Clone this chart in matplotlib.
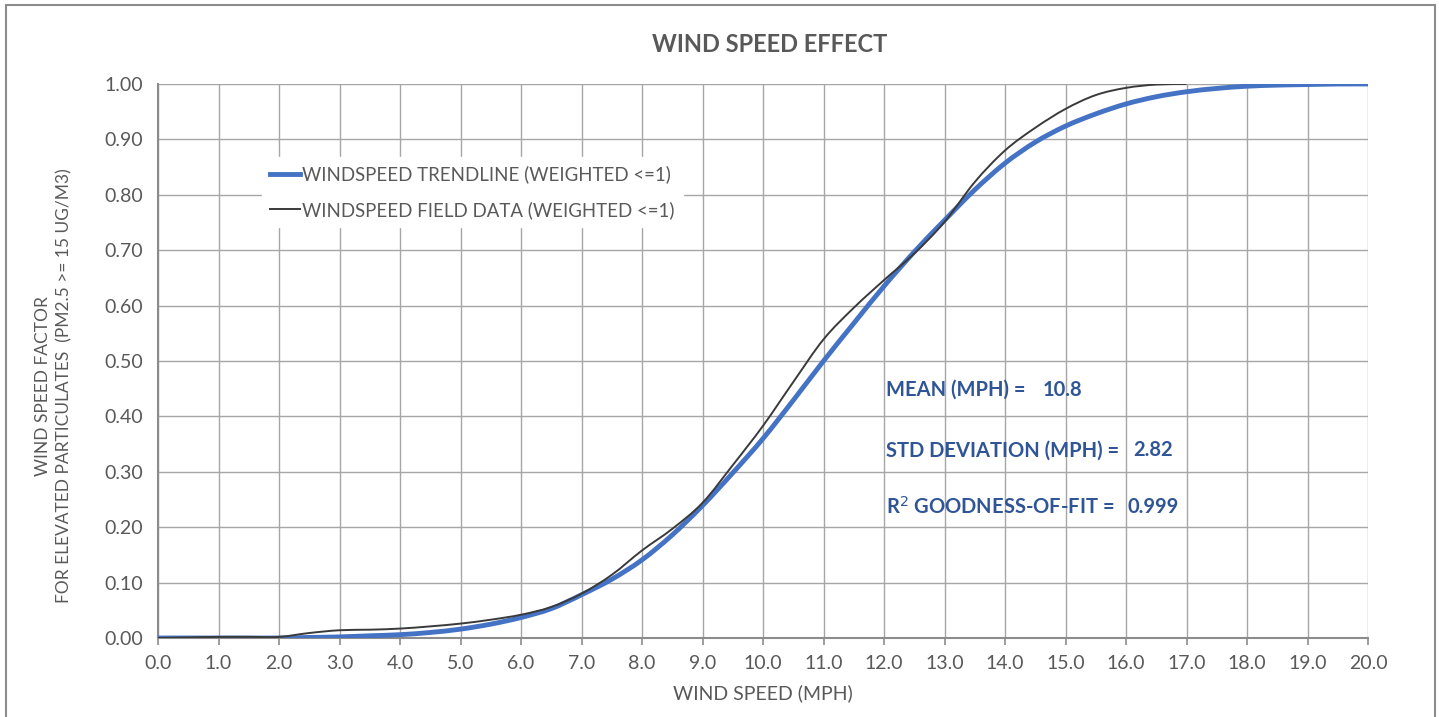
import matplotlib
matplotlib.use("Agg")
import matplotlib.pyplot as plt
from matplotlib.patches import Rectangle, PathPatch
from matplotlib.path import Path
from matplotlib.lines import Line2D

plt.rcParams['font.family'] = ['Lato', 'DejaVu Sans']

# wind speed (mph), read at half-mph steps
speed = [0.0, 0.5, 1.0, 1.5, 2.0, 2.5, 3.0, 3.5, 4.0, 4.5, 5.0, 5.5, 6.0, 6.5,
         7.0, 7.5, 8.0, 8.5, 9.0, 9.5, 10.0, 10.5, 11.0, 11.5, 12.0, 12.5,
         13.0, 13.5, 14.0, 14.5, 15.0, 15.5, 16.0, 16.5, 17.0, 17.5, 18.0,
         18.5, 19.0, 19.5, 20.0]

trend = [0.000, 0.000, 0.000, 0.000, 0.000, 0.001, 0.002, 0.004, 0.006, 0.010,
         0.016, 0.025, 0.037, 0.053, 0.078, 0.106, 0.141, 0.186, 0.239, 0.298,
         0.360, 0.429, 0.500, 0.568, 0.635, 0.697, 0.754, 0.809, 0.857, 0.895,
         0.924, 0.946, 0.964, 0.977, 0.986, 0.992, 0.996, 0.998, 0.999, 1.000,
         1.000]

# field data stops at 17 mph
field_speed = speed[:35]
field = [0.000, 0.001, 0.002, 0.002, 0.002, 0.009, 0.014, 0.015, 0.017, 0.021,
         0.026, 0.033, 0.042, 0.056, 0.080, 0.114, 0.158, 0.197, 0.244, 0.312,
         0.383, 0.462, 0.539, 0.596, 0.646, 0.694, 0.751, 0.823, 0.880, 0.921,
         0.955, 0.980, 0.993, 0.999, 1.000]

x_ticks = [i * 1.0 for i in range(21)]
y_ticks = [i / 10 for i in range(11)]

stats = [("MEAN (MPH) =", "10.8", 0.448, 14.63),
         ("STD DEVIATION (MPH) =", "2.82", 0.339, 16.12),
         ("R$^2$ GOODNESS-OF-FIT =", "0.999", 0.236, 16.03)]

gray = '#595959'
grid_c = '#A6A6A6'
blue = '#4472C4'
dark_blue = '#2F5597'
black = '#3A3A3A'


def smooth_path(xs, ys, k=1 / 6):
    # excel-like smoothed line: catmull-rom segments as cubic beziers
    verts = [(xs[0], ys[0])]
    codes = [Path.MOVETO]
    n = len(xs)
    for i in range(n - 1):
        x0, y0 = (xs[i - 1], ys[i - 1]) if i > 0 else (xs[i], ys[i])
        x1, y1 = xs[i], ys[i]
        x2, y2 = xs[i + 1], ys[i + 1]
        x3, y3 = (xs[i + 2], ys[i + 2]) if i + 2 < n else (x2, y2)
        c1 = (x1 + (x2 - x0) * k, y1 + (y2 - y0) * k)
        c2 = (x2 - (x3 - x1) * k, y2 - (y3 - y1) * k)
        verts += [c1, c2, (x2, y2)]
        codes += [Path.CURVE4] * 3
    return Path(verts, codes)


fig = plt.figure(figsize=(14.39, 7.17), dpi=100)
fig.patches.append(Rectangle((0.004, -0.01), 0.993, 1.003, transform=fig.transFigure,
                             fill=False, edgecolor='#8C8C8C', linewidth=1.5))

ax = fig.add_axes([158 / 1439, 1 - 638 / 717, 1210 / 1439, 554 / 717])
ax.add_patch(PathPatch(smooth_path(speed, trend), fill=False, edgecolor=blue,
                       linewidth=3.5, capstyle='butt', zorder=3))
ax.add_patch(PathPatch(smooth_path(field_speed, field), fill=False, edgecolor=black,
                       linewidth=1.4, zorder=4))

ax.set_xlim(0, 20)
ax.set_ylim(0, 1)
ax.set_xticks(x_ticks)
ax.set_yticks(y_ticks)
ax.set_xticklabels([f"{v:.1f}" for v in x_ticks])
ax.set_yticklabels([f"{v:.2f}" for v in y_ticks])
ax.grid(True, color=grid_c, linewidth=1.0)
ax.set_axisbelow(True)
for side in ['top', 'right']:
    ax.spines[side].set_visible(False)
for side in ['left', 'bottom']:
    ax.spines[side].set_color('#8C8C8C')
    ax.spines[side].set_linewidth(1.5)
ax.tick_params(axis='x', direction='out', length=5, color='#8C8C8C', width=1.2,
               labelsize=14, labelcolor=gray, pad=7)
ax.tick_params(axis='y', length=0, labelsize=14, labelcolor=gray, pad=11)

ax.set_xlabel("WIND SPEED (MPH)", fontsize=14, color=gray, labelpad=9)
ax.set_ylabel("WIND SPEED FACTOR\nFOR ELEVATED PARTICULATES  (PM2.5 >= 15 UG/M3)",
              fontsize=12.5, color=gray, linespacing=1.35)
ax.yaxis.set_label_coords(-0.071, 0.455)
fig.text(0.535, 1 - 45 / 717, "WIND SPEED EFFECT", ha='center', va='center',
         fontsize=17, fontweight='bold', color=gray)

handles = [Line2D([], [], color=blue, linewidth=3.5),
           Line2D([], [], color=black, linewidth=1.4)]
leg = ax.legend(handles, ["WINDSPEED TRENDLINE (WEIGHTED <=1)",
                          "WINDSPEED FIELD DATA (WEIGHTED <=1)"],
                loc='upper left', bbox_to_anchor=(0.078, 0.885), frameon=True,
                fontsize=13.4, handlelength=1.6, handletextpad=0.1,
                borderpad=0.45, labelspacing=0.95, fancybox=False)
leg.get_frame().set_edgecolor('white')
leg.get_frame().set_facecolor('white')
leg.get_frame().set_alpha(1)
for t in leg.get_texts():
    t.set_color(gray)

for label, value, yv, xv in stats:
    ax.text(12.03, yv, label, fontsize=14.5, fontweight='bold', color=dark_blue,
            va='center', ha='left')
    ax.text(xv, yv, value, fontsize=14.5, fontweight='bold', color=dark_blue,
            va='center', ha='left')

fig.savefig("out.png", dpi=100)
